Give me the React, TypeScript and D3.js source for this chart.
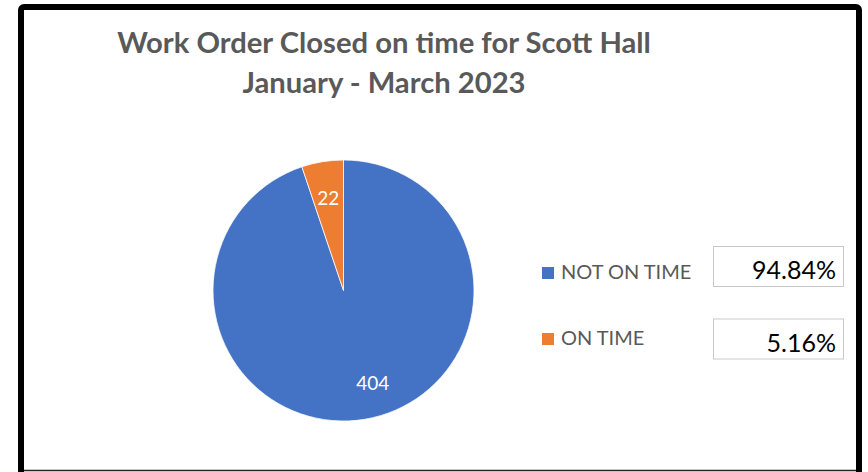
import React from "react";
import * as d3 from "d3";

const categories = ["NOT ON TIME", "ON TIME"];
const values = [404, 22];
const percentLabels = ["94.84%", "5.16%"];
const colors = ["#4472C4", "#ED7D31"];
const titleLines = ["Work Order Closed on time for Scott Hall", "January - March 2023"];

const W = 868;
const H = 472;

export default function App() {
  const cx = 343.5;
  const cy = 290.5;
  const r = 130.5;
  const pie = d3.pie<number>().sort(null).value((d) => d);
  const arcs = pie(values);
  const arc = d3.arc<d3.PieArcDatum<number>>().innerRadius(0).outerRadius(r);
  const labelArc = d3
    .arc<d3.PieArcDatum<number>>()
    .innerRadius(r * 0.72)
    .outerRadius(r * 0.72);

  // legend rows (key text) and value boxes
  const legendTextY = d3.scalePoint<string>().domain(categories).range([279, 345]);
  const boxY = d3.scalePoint<string>().domain(categories).range([246.5, 319]);

  return (
    <svg
      width={W}
      height={H}
      style={{ position: "absolute", left: 0, top: 0, display: "block", background: "#fff" }}
    >
      <rect x={0} y={0} width={W} height={H} fill="#fff" />
      <rect x={21} y={7} width={838} height={472} rx={3} fill="#fff" stroke="#000" strokeWidth={6} />
      <line x1={24} x2={856} y1={470.5} y2={470.5} stroke="#222" strokeWidth={1.5} />

      {titleLines.map((t, i) => (
        <text
          key={i}
          x={384}
          y={53 + i * 39.5}
          textAnchor="middle"
          fontFamily="Lato, 'Open Sans', sans-serif"
          fontWeight={700}
          fontSize={29.2}
          fill="#595959"
        >
          {t}
        </text>
      ))}

      <g transform={`translate(${cx},${cy})`}>
        {arcs.map((a, i) => (
          <path key={i} d={arc(a) || ""} fill={colors[i]} stroke="#fff" strokeWidth={0.75} />
        ))}
        {arcs.map((a, i) => {
          const [lx, ly] = labelArc.centroid(a);
          return (
            <text
              key={"l" + i}
              x={lx + (i === 0 ? 14 : 0)}
              y={ly}
              dy="0.36em"
              textAnchor="middle"
              fontFamily="Lato, 'Open Sans', sans-serif"
              fontSize={19}
              fill="#fff"
            >
              {a.data}
            </text>
          );
        })}
      </g>

      {categories.map((c, i) => {
        const ty = legendTextY(c) as number;
        const by = boxY(c) as number;
        return (
          <g key={c}>
            <rect x={542} y={ty - 12} width={12} height={12} fill={colors[i]} />
            <text
              x={561}
              y={ty}
              fontFamily="Lato, 'Open Sans', sans-serif"
              fontSize={20}
              fill="#595959"
            >
              {c}
            </text>
            <rect x={713.5} y={by} width={130} height={40} fill="#fff" stroke="#c9c9c9" strokeWidth={1} />
            <text
              x={836}
              y={by + 32.5}
              textAnchor="end"
              fontFamily="Lato, 'Open Sans', sans-serif"
              fontSize={25}
              fill="#000"
            >
              {percentLabels[i]}
            </text>
          </g>
        );
      })}
    </svg>
  );
}
